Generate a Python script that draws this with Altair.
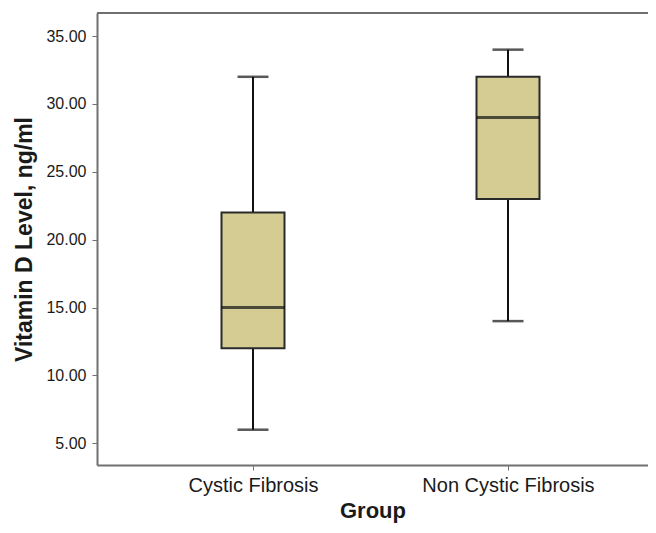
import altair as alt
import pandas as pd

groups = ["Cystic Fibrosis", "Non Cystic Fibrosis"]
mins = [6.0, 14.0]
q1s = [12.0, 23.0]
medians = [15.0, 29.0]
q3s = [22.0, 32.0]
maxs = [32.0, 34.0]
y_ticks = [5, 10, 15, 20, 25, 30, 35]

df = pd.DataFrame({"Group": groups, "lo": mins, "q1": q1s, "med": medians, "q3": q3s, "hi": maxs})

AX = "#707070"
FONT = "Liberation Sans"
W, H = 551, 452
xscale = alt.Scale(type="point", padding=0.5804, align=0.527)
x = alt.X("Group:N", sort=groups, title="Group", scale=xscale,
          axis=alt.Axis(labelAngle=0, labelFontSize=20, labelFont=FONT, labelColor="#1a1a1a",
                        labelPadding=5, tickSize=5, tickColor=AX, domainColor=AX, domainWidth=2,
                        titleFontSize=22, titleFont=FONT, titleFontWeight="bold",
                        titleColor="#1a1a1a", titlePadding=5))
yscale = alt.Scale(domain=[3.4, 36.7], nice=False, zero=False)
yaxis = alt.Axis(values=y_ticks, format=".2f", labelFontSize=16, labelFont=FONT,
                 labelColor="#1a1a1a", labelPadding=6, tickSize=5, tickColor=AX, domainColor=AX,
                 domainWidth=2, grid=False, title="Vitamin D Level, ng/ml", titleFontSize=23,
                 titleFont=FONT, titleFontWeight="bold", titleColor="#1a1a1a", titlePadding=9)

base = alt.Chart(df)
lower = base.mark_rule(color="#111", strokeWidth=2).encode(
    x=x, y=alt.Y("lo:Q", scale=yscale, axis=yaxis), y2="q1:Q")
upper = base.mark_rule(color="#111", strokeWidth=2).encode(x=x, y=alt.Y("q3:Q"), y2="hi:Q")
box = base.mark_bar(size=63, fill="#D4CC92", stroke="#2a2a2a", strokeWidth=2).encode(
    x=x, y=alt.Y("q1:Q"), y2="q3:Q")
med = base.mark_tick(size=63, thickness=3, color="#111").encode(x=x, y=alt.Y("med:Q"))
cap_lo = base.mark_tick(size=31, thickness=2.5, color="#111").encode(x=x, y=alt.Y("lo:Q"))
cap_hi = base.mark_tick(size=31, thickness=2.5, color="#111").encode(x=x, y=alt.Y("hi:Q"))
# top frame line of the plot area
frame_top = alt.Chart(df).mark_rule(color=AX, strokeWidth=2).encode(
    x=alt.value(0), x2=alt.value(W), y=alt.value(0))

chart = alt.layer(frame_top, lower, upper, box, med, cap_lo, cap_hi).properties(
    width=W, height=H,
    autosize=alt.AutoSizeParams(type="none"),
    padding={"left": 89, "top": 5, "right": 0, "bottom": 58},
).configure_view(stroke=None).configure(background="white")

chart.save("out.html", embed_options={"renderer": "svg", "actions": False})
